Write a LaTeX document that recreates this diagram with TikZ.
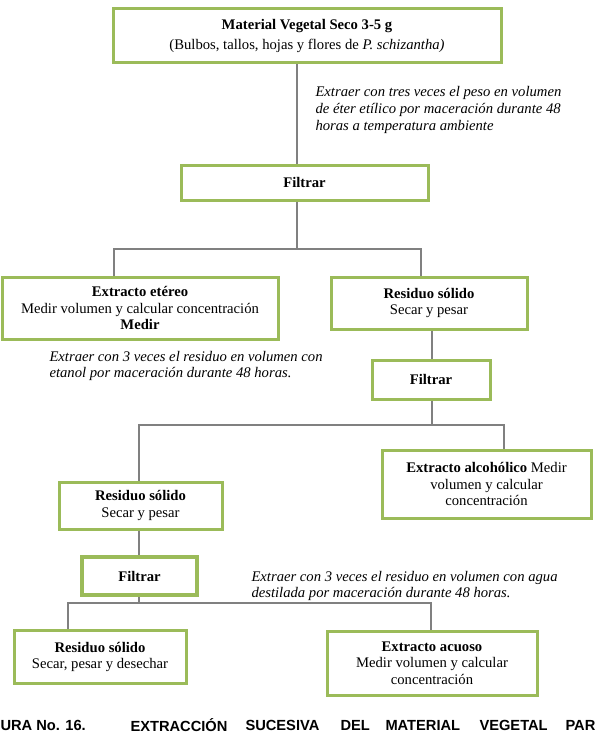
\documentclass[tikz,border=0pt]{standalone}
\usepackage{fontspec}
\setmainfont{Liberation Serif}
\newfontfamily\capfont{Liberation Sans}
\definecolor{boxgreen}{RGB}{155,187,89}
\definecolor{linegray}{RGB}{128,128,128}

\tikzset{every picture/.style={line width=0.75pt}}
\tikzset{
  stepbox/.style={draw=boxgreen, line width=2.25pt, fill=white, align=center, inner sep=0pt,
    font=\fontsize{11}{12.5}\selectfont},
  note/.style={anchor=west, align=left, inner sep=0pt, font=\fontsize{11}{12.5}\selectfont\itshape},
  link/.style={draw=linegray, line width=1.5pt},
  capword/.style={anchor=west, inner sep=0pt, font=\capfont\bfseries\fontsize{11}{13}\selectfont}
}

\begin{document}
\begin{tikzpicture}[x=0.75pt,y=0.75pt,yscale=-1]
%set diagram left start at 0, and has height of 742
\useasboundingbox (0,0) rectangle (597,742);

%Shape: Rectangle [id:material]
\node (material) at (307,36) [stepbox, minimum width=291pt, minimum height=40.5pt]
  {\textbf{Material Vegetal Seco 3-5 g}\\[2pt](Bulbos, tallos, hojas y flores de \textit{P. schizantha)}};
%Shape: Rectangle [id:filtrar1]
\node (filtrar1) at (304.5,182.5) [stepbox, minimum width=185.25pt, minimum height=26.25pt] {\textbf{Filtrar}};
%Shape: Rectangle [id:etereo]
\node (etereo) at (140,308) [stepbox, minimum width=207pt, minimum height=46.5pt]
  {\textbf{Extracto etéreo}\\Medir volumen y calcular concentración\\\textbf{Medir}};
%Shape: Rectangle [id:residuo1]
\node (residuo1) at (429,303) [stepbox, minimum width=147pt, minimum height=39pt]
  {\textbf{Residuo sólido}\\Secar y pesar};
%Shape: Rectangle [id:filtrar2]
\node (filtrar2) at (431,379.5) [stepbox, minimum width=88.5pt, minimum height=29.25pt] {\textbf{Filtrar}};
%Shape: Rectangle [id:alcoholico]
\node (alcoholico) at (486.5,484) [stepbox, minimum width=156.75pt, minimum height=51pt]
  {\textbf{Extracto alcohólico} Medir\\volumen y calcular\\concentración};
%Shape: Rectangle [id:residuo2]
\node (residuo2) at (140.5,505.5) [stepbox, minimum width=122.25pt, minimum height=35.25pt]
  {\textbf{Residuo sólido}\\Secar y pesar};
%Shape: Rectangle [id:filtrar3]
\node (filtrar3) at (139.5,576) [stepbox, line width=3.4pt, minimum width=86.25pt, minimum height=28.5pt] {\textbf{Filtrar}};
%Shape: Rectangle [id:residuo3]
\node (residuo3) at (100,657) [stepbox, minimum width=129pt, minimum height=40pt]
  {\textbf{Residuo sólido}\\Secar, pesar y desechar};
%Shape: Rectangle [id:acuoso]
\node (acuoso) at (432,663) [stepbox, minimum width=157.5pt, minimum height=48pt]
  {\textbf{Extracto acuoso}\\Medir volumen y calcular\\concentración};

%Straight Lines [id:branch1]
\coordinate (c1) at (297,249);
\coordinate (c1l) at (114,249);
\coordinate (c1r) at (421,249);
\draw [link] (material.south -| c1) -- (filtrar1.north -| c1);
\draw [link] (filtrar1.south -| c1) -- (c1);
\draw [link] (c1l |- etereo.north) |- (c1r) -- (c1r |- residuo1.north);

%Straight Lines [id:branch2]
\coordinate (c2) at (432,425);
\coordinate (c2l) at (139,425);
\coordinate (c2r) at (504,425);
\draw [link] (residuo1.south -| c2) -- (filtrar2.north -| c2);
\draw [link] (filtrar2.south -| c2) -- (c2);
\draw [link] (c2l |- residuo2.north) |- (c2r) -- (c2r |- alcoholico.north);

%Straight Lines [id:branch3]
\coordinate (c3) at (139,603);
\coordinate (c3l) at (68,603);
\coordinate (c3r) at (431,603);
\draw [link] (residuo2.south -| c3) -- (filtrar3.north -| c3);
\draw [link] (filtrar3.south -| c3) -- (c3);
\draw [link] (c3l |- residuo3.north) |- (c3r) -- (c3r |- acuoso.north);

% Text Node
\node (nota1) at (315,110) [note] {Extraer con tres veces el peso en volumen\\de éter etílico por maceración durante 48\\horas a temperatura ambiente};
% Text Node
\node (nota2) at (49,366) [note] {Extraer con 3 veces el residuo en volumen con\\etanol por maceración durante 48 horas.};
% Text Node
\node (nota3) at (251,586) [note] {Extraer con 3 veces el residuo en volumen con agua\\destilada por maceración durante 48 horas.};

% Text Node
\node (cap1) at (0,725) [capword] {URA No. 16.};
\node (cap2) at (130,725) [capword] {EXTRACCIÓN};
\node (cap3) at (245,725) [capword] {SUCESIVA};
\node (cap4) at (340,725) [capword] {DEL};
\node (cap5) at (385,725) [capword] {MATERIAL};
\node (cap6) at (479,725) [capword] {VEGETAL};
\node (cap7) at (565,725) [capword] {PAR};

\end{tikzpicture}
\end{document}
